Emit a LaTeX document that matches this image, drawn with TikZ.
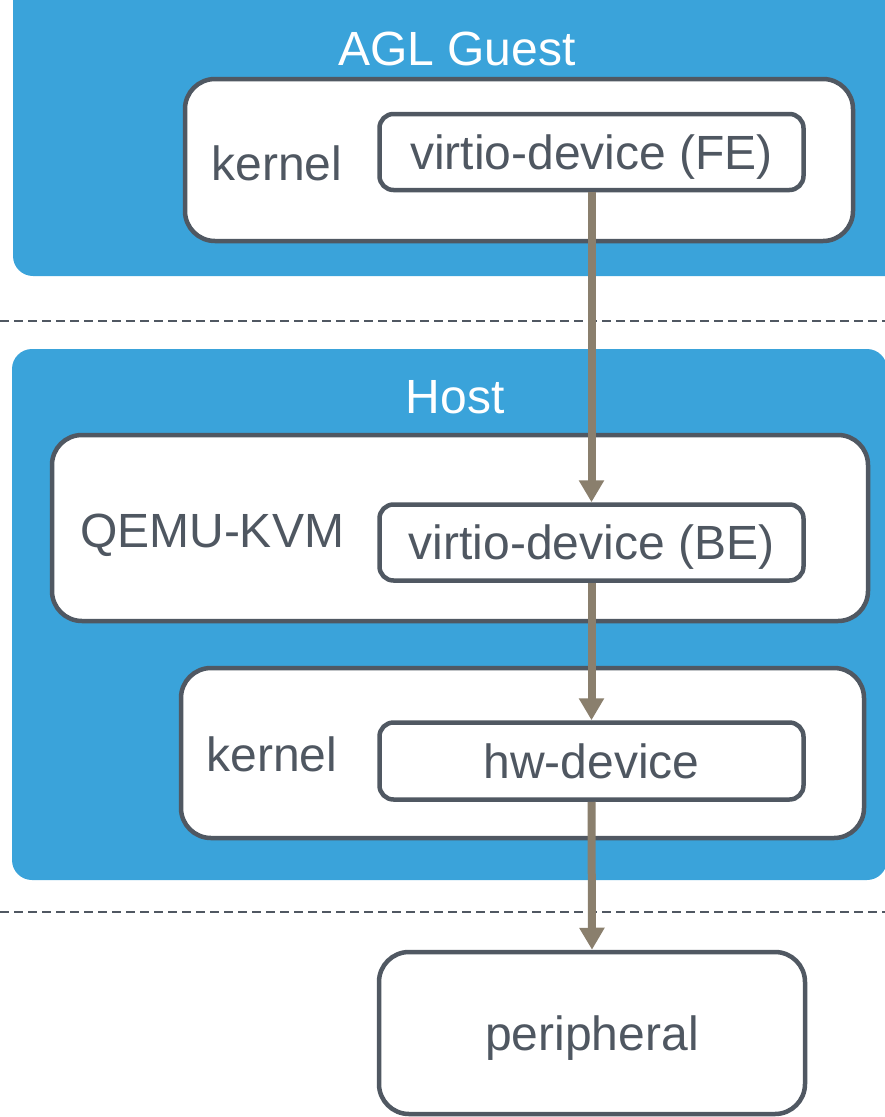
\documentclass[tikz,border=0pt]{standalone}
\usepackage{fontspec}
\setmainfont{Liberation Sans}
\usetikzlibrary{arrows.meta}

\definecolor{layerblue}{HTML}{3AA3DA}
\definecolor{edgegray}{HTML}{505862}
\definecolor{labelgray}{HTML}{4F5761}
\definecolor{flowbrown}{HTML}{8A7F6D}

\begin{document}
\begin{tikzpicture}
  [x=1pt,y=-1pt,
   every node/.style={font=\fontsize{48}{56}\selectfont,text=labelgray},
   layer/.style={fill=layerblue,rounded corners=20pt},
   outerbox/.style={draw=edgegray,line width=4.5pt,fill=white,rounded corners=30pt},
   devbox/.style={draw=edgegray,line width=4.5pt,fill=white,rounded corners=14pt,text depth=0pt},
   flow/.style={draw=flowbrown,line width=8pt,-{Triangle[width=24pt,length=22pt]}},
   sep/.style={draw=edgegray,line width=2.5pt,dash pattern=on 9pt off 5pt}]
  \clip (0,0) rectangle (885,1117);

  \fill[layer] (13,-40) rectangle (920,276);
  \fill[layer] (12,349) rectangle (887,880);

  \draw[sep] (0,321) -- (885,321);
  \draw[sep] (0,912) -- (885,912);

  \node[text=white,anchor=base] (guestlbl) at (457,65) {AGL Guest};
  \node[text=white,anchor=base] (hostlbl) at (455,413) {Host};

  \node[outerbox,minimum width=668pt,minimum height=162pt] (gkern) at (519,160) {};
  \node[outerbox,minimum width=816pt,minimum height=186pt] (qemu) at (460,528) {};
  \node[outerbox,minimum width=683pt,minimum height=170pt] (hkern) at (522.5,753) {};

  \node[anchor=base] (gkernlbl) at (277,180) {kernel};
  \node[anchor=base] (qemulbl) at (212,547) {QEMU-KVM};
  \node[anchor=base] (hkernlbl) at (272,771) {kernel};

  \node[devbox,minimum width=424pt,minimum height=76pt] (fe) at (591.5,152) {virtio-device (FE)};
  \node[devbox,minimum width=424pt,minimum height=76pt] (be) at (591.5,542.5) {virtio-device (BE)};
  \node[devbox,minimum width=424pt,minimum height=77pt] (hw) at (591.5,761) {hw-device};
  \node[devbox,rounded corners=30pt,text depth=-10pt,minimum width=426pt,minimum height=162pt] (periph) at (592,1033) {peripheral};

  \draw[flow] (fe.south) -- (be.north);
  \draw[flow] (be.south) -- (hw.north);
  \draw[flow] (hw.south) -- (periph.north);

\end{tikzpicture}
\end{document}
